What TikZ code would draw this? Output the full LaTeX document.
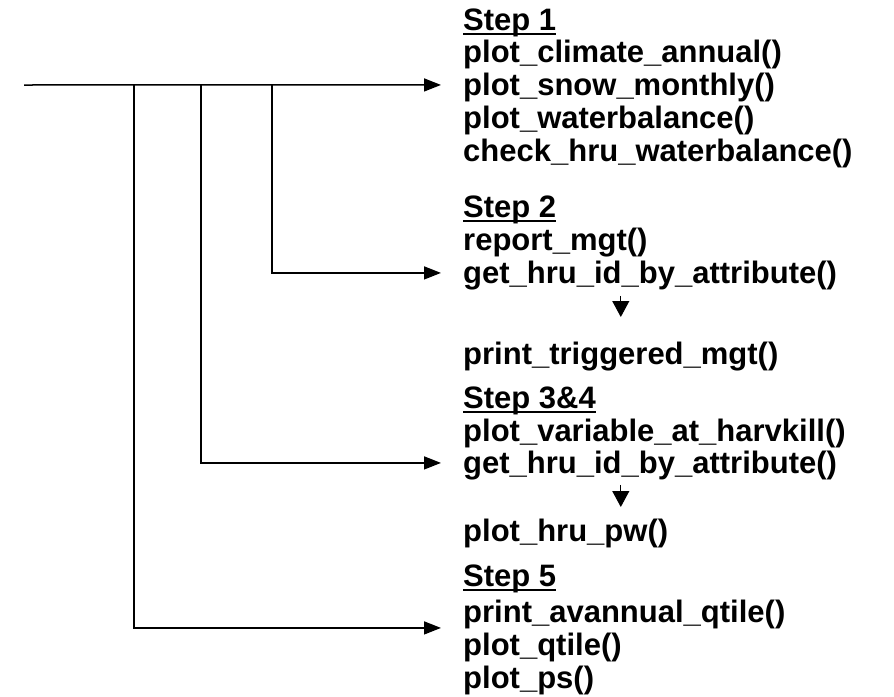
\documentclass[tikz,border=0pt]{standalone}
\usepackage{fontspec}
\setmainfont{Liberation Sans}
\usetikzlibrary{arrows.meta, positioning}
\tikzset{
  fn/.style={anchor=base west, inner sep=0pt, text height=24.8pt,
    text depth=4.65pt, font=\fontsize{31}{33}\selectfont\bfseries},
  uline/.style={line width=1.8pt},
  feed/.style={-{Triangle[length=17pt,width=13pt]}, line width=1.5pt,
    shorten >=22pt},
  nextcall/.style={-{Triangle[length=16pt,width=17pt]}, line width=1pt}
}

\begin{document}
\begin{tikzpicture}[x=1pt, y=-1pt]
  \useasboundingbox (0,0) rectangle (894,696);
  % step 1
  \node[fn] (s1head) at (463,30)  {Step 1};
  \node[fn] (s1a)    at (463,62)  {plot\_climate\_annual()};
  \node[fn] (s1b)    at (463,95)  {plot\_snow\_monthly()};
  \node[fn] (s1c)    at (463,128) {plot\_waterbalance()};
  \node[fn] (s1d)    at (463,161) {check\_hru\_waterbalance()};
  % step 2
  \node[fn] (s2head) at (463,217) {Step 2};
  \node[fn] (s2a)    at (463,250) {report\_mgt()};
  \node[fn] (s2b)    at (463,283) {get\_hru\_id\_by\_attribute()};
  \node[fn] (s2c)    at (463,364) {print\_triggered\_mgt()};
  % step 3&4
  \node[fn] (s3head) at (463,408) {Step 3\&4};
  \node[fn] (s3a)    at (463,441) {plot\_variable\_at\_harvkill()};
  \node[fn] (s3b)    at (463,473) {get\_hru\_id\_by\_attribute()};
  \node[fn] (s3c)    at (463,541) {plot\_hru\_pw()};
  % step 5
  \node[fn] (s5head) at (463,586) {Step 5};
  \node[fn] (s5a)    at (463,622) {print\_avannual\_qtile()};
  \node[fn] (s5b)    at (463,655) {plot\_qtile()};
  \node[fn] (s5c)    at (463,688) {plot\_ps()};

  % underlined step titles
  \foreach \h in {s1head,s2head,s3head,s5head}
    \draw[uline] ([yshift=-4pt]\h.base west) -- ([yshift=-4pt]\h.base east);

  \coordinate (src) at (24,85);
  \coordinate (b5)  at (134,85);
  \coordinate (b34) at (201,85);
  \coordinate (b2)  at (272,85);

  \draw[feed] (src) -- (s1b);
  \draw[feed] (b2) |- (s2b);
  \draw[feed] (b34) |- (s3b);
  \draw[feed] (b5) |- ([yshift=-16pt]s5a.west);

  \draw[nextcall, shorten <=8pt, shorten >=22pt]
    (s2b.south -| s2c.north) -- (s2c.north);
  \draw[nextcall, shorten <=7pt, shorten >=9pt]
    (s3b.south -| s2c.north) -- (s3c.north -| s2c.north);
\end{tikzpicture}
\end{document}
